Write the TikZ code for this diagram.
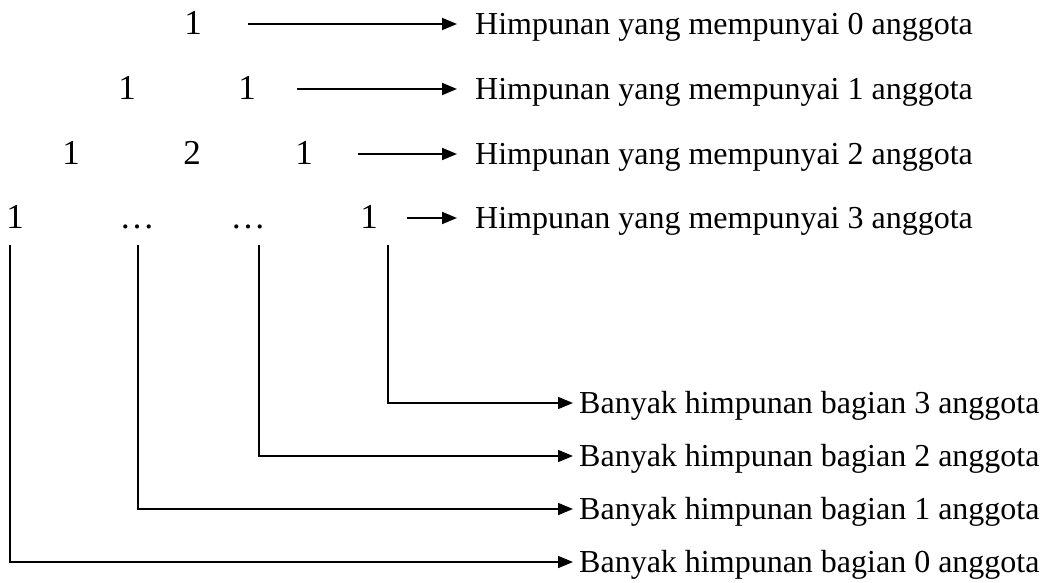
\documentclass[tikz,border=0pt]{standalone}
\usepackage{fontspec}
\setmainfont{Liberation Serif}
\usetikzlibrary{arrows.meta}
\tikzset{
  base/.style={font=\fontsize{32}{38}\selectfont, inner sep=0pt,
    text height=21pt, text depth=0pt},
  num/.style={font=\fontsize{35}{42}\selectfont, inner sep=0pt,
    text height=23.6pt, text depth=0pt, anchor=center},
  toplabel/.style={base, anchor=west, inner xsep=18pt},
  botlabel/.style={base, anchor=west, inner xsep=6pt},
  link/.style={line width=1.9pt, -{Triangle[length=15pt,width=12pt]}},
  leg/.style={line width=1.6pt, -{Triangle[length=15pt,width=12pt]}}
}
\begin{document}
\begin{tikzpicture}[x=1pt,y=-1pt]
\useasboundingbox (0,0) rectangle (1049,583);

% Pascal-style triangle rows
\node[num] (r1a) at (193,23) {1};
\node[num] (r2a) at (127,88) {1};
\node[num] (r2b) at (247,88) {1};
\node[num] (r3a) at (71,153)  {1};
\node[num] (r3b) at (192,153) {2};
\node[num] (r3c) at (304,153) {1};
\node[num] (r4a) at (15,217)  {1};
\node[num] (r4b) at (137,217) {…};
\node[num] (r4c) at (248,217) {…};
\node[num] (r4d) at (369,217) {1};

% row descriptions
\node[toplabel] (h0) at (457,24)  {Himpunan yang mempunyai 0 anggota};
\node[toplabel] (h1) at (457,89)  {Himpunan yang mempunyai 1 anggota};
\node[toplabel] (h2) at (457,154) {Himpunan yang mempunyai 2 anggota};
\node[toplabel] (h3) at (457,218) {Himpunan yang mempunyai 3 anggota};

\coordinate (s0) at (248,24);
\coordinate (s1) at (297,89);
\coordinate (s2) at (358,154);
\coordinate (s3) at (407,218);

\draw[link] (s0) -- (h0.west);
\draw[link] (s1) -- (h1.west);
\draw[link] (s2) -- (h2.west);
\draw[link] (s3) -- (h3.west);

% entries of the last row and their meaning
\node[botlabel] (b3) at (573,403) {Banyak himpunan bagian 3 anggota};
\node[botlabel] (b2) at (573,456) {Banyak himpunan bagian 2 anggota};
\node[botlabel] (b1) at (573,509) {Banyak himpunan bagian 1 anggota};
\node[botlabel] (b0) at (573,562) {Banyak himpunan bagian 0 anggota};

\coordinate (v0) at (10,245);
\coordinate (v1) at (138,245);
\coordinate (v2) at (259,245);
\coordinate (v3) at (388,245);

\draw[leg] (v3) |- (b3.west);
\draw[leg] (v2) |- (b2.west);
\draw[leg] (v1) |- (b1.west);
\draw[leg] (v0) |- (b0.west);
\end{tikzpicture}
\end{document}
